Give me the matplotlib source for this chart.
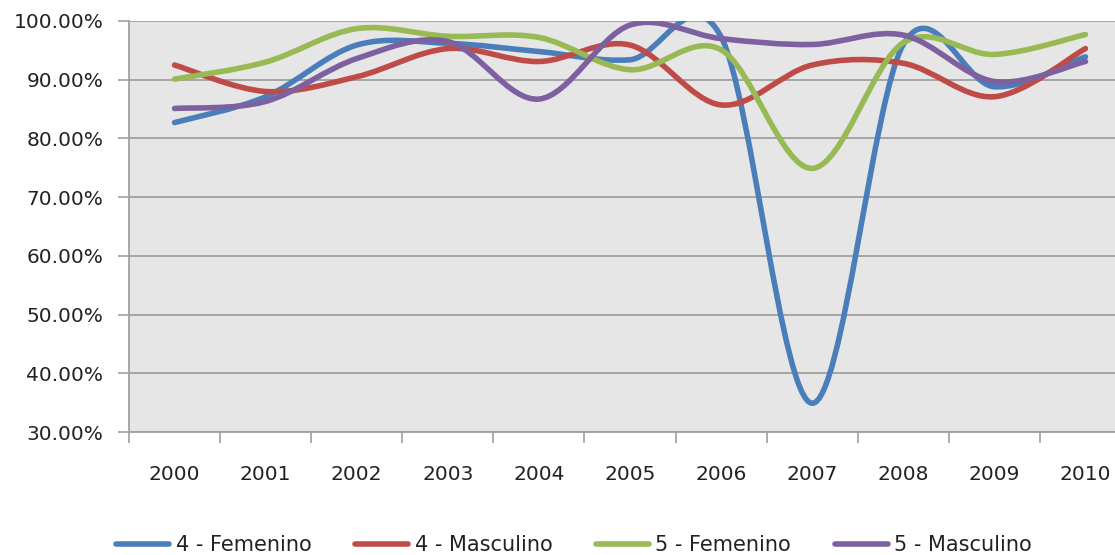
import matplotlib
matplotlib.use("Agg")
import matplotlib.pyplot as plt
from matplotlib.path import Path
from matplotlib.patches import PathPatch
from matplotlib.lines import Line2D
from matplotlib.ticker import FuncFormatter, FixedLocator
import numpy as np

years = ["2000", "2001", "2002", "2003", "2004", "2005", "2006", "2007", "2008", "2009", "2010"]
fem4 = [82.7, 87.1, 95.9, 96.2, 94.8, 93.4, 97.3, 34.9, 96.0, 88.8, 93.9]
mas4 = [92.5, 88.0, 90.5, 95.3, 93.1, 95.9, 85.7, 92.5, 92.8, 87.1, 95.3]
fem5 = [90.1, 93.0, 98.7, 97.4, 97.2, 91.7, 95.1, 74.9, 96.3, 94.3, 97.7]
mas5 = [85.1, 86.3, 93.6, 96.5, 86.7, 99.3, 97.0, 96.0, 97.6, 89.7, 93.1]
series_names = ["4 - Femenino", "4 - Masculino", "5 - Femenino", "5 - Masculino"]
y_ticks = [30, 40, 50, 60, 70, 80, 90, 100]

colors = ["#4A7EBB", "#BE4B48", "#98B954", "#7D60A0"]
LW = 4.0

fig = plt.figure(figsize=(11.15, 5.55), dpi=100)
ax = fig.add_axes([129 / 1115, 1 - 432 / 555, 1002 / 1115, 411 / 555])
ax.set_facecolor("#E6E6E6")


def smooth_path(vals):
    x = np.arange(len(vals), dtype=float)
    y = np.asarray(vals, dtype=float)
    n = len(x)
    verts = [(x[0], y[0])]
    codes = [Path.MOVETO]
    for i in range(n - 1):
        i0 = max(i - 1, 0)
        i3 = min(i + 2, n - 1)
        c1 = (x[i] + (x[i + 1] - x[i0]) / 6.0, y[i] + (y[i + 1] - y[i0]) / 6.0)
        c2 = (x[i + 1] - (x[i3] - x[i]) / 6.0, y[i + 1] - (y[i3] - y[i]) / 6.0)
        verts += [c1, c2, (x[i + 1], y[i + 1])]
        codes += [Path.CURVE4] * 3
    return Path(verts, codes)


for vals, c in zip([fem4, mas4, fem5, mas5], colors):
    patch = PathPatch(smooth_path(vals), facecolor="none", edgecolor=c,
                      lw=LW, capstyle="round", joinstyle="round", zorder=3)
    ax.add_patch(patch)

ax.set_xlim(-0.5, 10.5)
ax.set_ylim(30, 100)

ax.yaxis.set_major_locator(FixedLocator(y_ticks))
ax.yaxis.set_major_formatter(FuncFormatter(lambda v, p: f"{v:.2f}%"))
ax.grid(axis="y", color="#A0A0A0", lw=1.3, zorder=1)
ax.set_axisbelow(True)

ax.set_xticks(np.arange(len(years)))
ax.set_xticklabels(years)
ax.set_xticks(np.arange(len(years) + 1) - 0.5, minor=True)
ax.tick_params(axis="x", which="major", length=0, pad=24, labelsize=14.5, labelcolor="#222222")
ax.tick_params(axis="x", which="minor", length=8, width=1.2, color="#A0A0A0", direction="out")
ax.tick_params(axis="y", which="major", length=8, width=1.2, color="#A0A0A0", direction="out",
               labelsize=14.5, labelcolor="#222222", pad=10.5)

for s in ["top", "right"]:
    ax.spines[s].set_visible(False)
for s in ["left", "bottom"]:
    ax.spines[s].set_color("#A0A0A0")
    ax.spines[s].set_linewidth(1.3)

handles = [Line2D([0], [0], color=c, lw=LW, solid_capstyle="round") for c in colors]
fig.legend(handles, series_names, loc="center", bbox_to_anchor=(0.515, 0.018),
           ncol=4, frameon=False, fontsize=15, handlelength=2.55, columnspacing=2.1,
           handletextpad=0.3, labelcolor="#222222")

fig.savefig("out.png", dpi=100, facecolor="white")
